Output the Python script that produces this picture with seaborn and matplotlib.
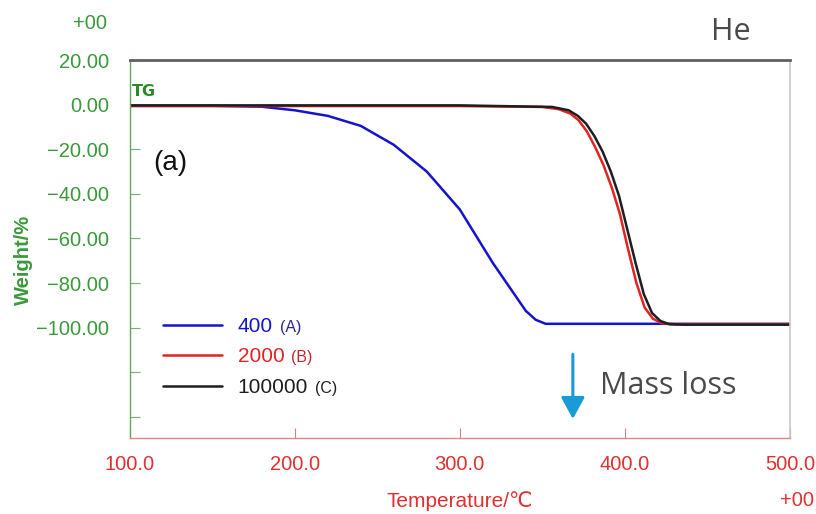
import numpy as np
import pandas as pd
import seaborn as sns
import matplotlib.pyplot as plt
from matplotlib.ticker import FuncFormatter

#///// Data
temp_a = [100, 150, 180, 200, 220, 240, 260, 280, 300, 320, 340, 346, 352, 400, 450, 500]
weight_a = [-0.5, -0.5, -0.9, -2.5, -5.0, -9.5, -18.0, -30.0, -47.0, -71.0, -92.5, -96.5, -98.3, -98.3, -98.3, -98.3]

temp_b = [100, 300, 350, 360, 367, 372, 377, 382, 387, 392, 397, 402, 407, 412, 417, 422, 430, 500]
weight_b = [-0.6, -0.6, -1.0, -2.0, -4.0, -7.0, -12.0, -19.0, -27.0, -37.0, -49.0, -65.0, -80.0, -91.0, -96.0, -98.0, -98.5, -98.5]

temp_c = [100, 300, 356, 366, 371.5, 376.5, 381.5, 386.5, 391.5, 396.5, 401.5, 406.5, 411.5, 416.5, 421.5, 427, 436, 500]
weight_c = [-0.3, -0.3, -1.0, -2.5, -5.0, -8.5, -14.0, -21.0, -30.0, -41.0, -56.0, -71.0, -85.0, -93.5, -97.0, -98.5, -98.7, -98.7]

series_names = ['400', '2000', '100000']
series_tags = ['(A)', '(B)', '(C)']
series_colors = ['#1414cc', '#e02424', '#1e1e1e']
tag_colors = ['#2a2a8a', '#c02a2a', '#1e1e1e']

xticks = [100, 200, 300, 400, 500]
yticks = [20, 0, -20, -40, -60, -80, -100, -120, -140]

green = '#3a9a3a'
red = '#e03030'

#///// Long-form table for seaborn
frames = []
for name, t, w in zip(series_names, [temp_a, temp_b, temp_c], [weight_a, weight_b, weight_c]):
    frames.append(pd.DataFrame({'Temperature': t, 'Weight': w, 'Sample': name}))
data = pd.concat(frames, ignore_index=True)

#///// Style
sns.set_theme(style='white')
plt.rcParams['font.family'] = ['Liberation Sans', 'DejaVu Sans']

fig = plt.figure(figsize=(8.16, 5.14), dpi=100)
ax = fig.add_axes([0.159, 0.148, 0.809, 0.735])

sns.lineplot(data=data, x='Temperature', y='Weight', hue='Sample', hue_order=series_names,
             palette=series_colors, linewidth=1.8, sort=False, estimator=None, ax=ax)

ax.set_xlim(100, 500)
ax.set_ylim(-149.5, 20)

# x-axis
ax.set_xticks(xticks)
ax.xaxis.set_major_formatter(FuncFormatter(lambda v, p: '%.1f' % v))
ax.tick_params(axis='x', direction='in', length=7, width=0.8, colors='#d08080',
               labelcolor=red, labelsize=14.5, pad=12, bottom=True)
ax.set_xlabel('Temperature/\u2103', color=red, fontsize=15)
ax.xaxis.set_label_coords(0.5, -0.14)

# y-axis
ax.set_yticks(yticks)
def ylab(v, p):
    if v < -100.5:
        return ''
    return ('%.2f' % v).replace('-', '\u2212')
ax.yaxis.set_major_formatter(FuncFormatter(ylab))
ax.tick_params(axis='y', direction='in', length=7, width=0.8, colors='#70b070',
               labelcolor=green, labelsize=14.5, pad=15, left=True)
ax.set_ylabel('Weight/%', color=green, fontsize=14.5, fontweight='bold')
ax.yaxis.set_label_coords(-0.147, 0.47)

# spines
ax.spines['left'].set_color('#60a860')
ax.spines['left'].set_linewidth(1.0)
ax.spines['bottom'].set_color('#e08888')
ax.spines['bottom'].set_linewidth(1.0)
ax.spines['top'].set_color('#606060')
ax.spines['top'].set_linewidth(2.0)
ax.spines['right'].set_color('#c8c8c8')
ax.spines['right'].set_linewidth(1.2)

# legend
handles, labels = ax.get_legend_handles_labels()
leg = ax.legend(handles, labels, loc='upper left', bbox_to_anchor=(0.05, 0.32),
                frameon=False, fontsize=15, handlelength=2.85, handletextpad=0.75,
                labelspacing=0.55, borderpad=0, borderaxespad=0)
for txt, col, tag, tcol in zip(leg.get_texts(), series_colors, series_tags, tag_colors):
    txt.set_color(col)
    ax.annotate(tag, xy=(1, 0), xycoords=txt, xytext=(5, 1), textcoords='offset points',
                ha='left', va='bottom', fontsize=11.5, color=tcol, zorder=10)

# annotations
ax.text(101.5, 2.5, 'TG', color='#2a8a2a', fontsize=11.5, fontweight='bold',
        family=['DejaVu Sans'], ha='left', va='bottom')
ax.text(114, -26, '(a)', color='#111111', fontsize=20, ha='left', va='center')
ax.annotate('', xy=(368.5, -141), xytext=(368.5, -112),
            arrowprops=dict(arrowstyle='-|>,head_width=0.6,head_length=1.1',
                            color='#1a9ad6', lw=2.2, shrinkA=0, shrinkB=0))
ax.text(385, -126, 'Mass loss', color='#4a4a4a', fontsize=22, family=['Open Sans', 'DejaVu Sans'],
        ha='left', va='center')
fig.text(0.896, 0.938, 'He', color='#4a4a4a', fontsize=22, family=['Open Sans', 'DejaVu Sans'],
         ha='center', va='center')
fig.text(0.11, 0.955, '+00', color=green, fontsize=14.5, ha='center', va='center')
fig.text(0.997, 0.027, '+00', color=red, fontsize=14.5, ha='right', va='center')

plt.savefig('out.png', dpi=100)
